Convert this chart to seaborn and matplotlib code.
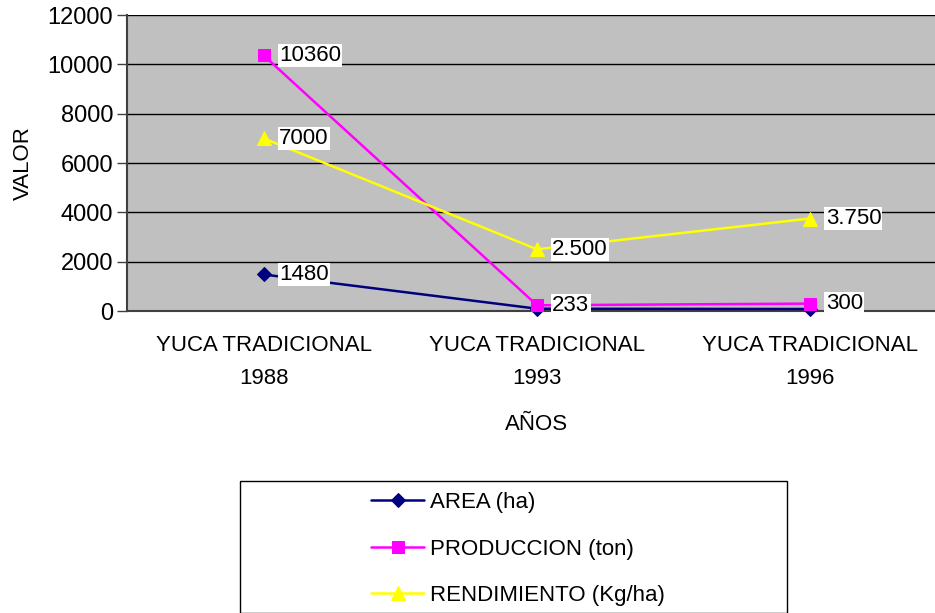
import matplotlib
matplotlib.use("Agg")
import matplotlib.pyplot as plt
from matplotlib.patches import Rectangle
from matplotlib.ticker import FixedLocator
import seaborn as sns
import pandas as pd

categories = ["YUCA TRADICIONAL\n1988", "YUCA TRADICIONAL\n1993", "YUCA TRADICIONAL\n1996"]
area = [1480, 93, 80]
produccion = [10360, 233, 300]
rendimiento = [7000, 2500, 3750]
prod_labels = ["10360", "233", "300"]
rend_labels = ["7000", "2.500", "3.750"]
area_labels = ["1480", None, None]
series_names = ["AREA (ha)", "PRODUCCION (ton)", "RENDIMIENTO (Kg/ha)"]
yticks = [0, 2000, 4000, 6000, 8000, 10000, 12000]

sns.set_theme(style="white")
plt.rcParams["font.family"] = ["Liberation Sans", "DejaVu Sans"]
plt.rcParams["text.color"] = "black"
plt.rcParams["axes.labelcolor"] = "black"
plt.rcParams["xtick.color"] = "black"
plt.rcParams["ytick.color"] = "black"
FS = 16

fig = plt.figure(figsize=(9.35, 6.13), dpi=100)
W, H = 935, 613
ax = fig.add_axes([127 / W, (H - 311) / H, (947 - 127) / W, 296 / H])
ax.set_facecolor("#C0C0C0")

pos = list(range(len(categories)))
df = pd.DataFrame({"pos": pos * 3,
                   "valor": area + produccion + rendimiento,
                   "serie": [series_names[0]] * 3 + [series_names[1]] * 3 + [series_names[2]] * 3})

colors = {"AREA (ha)": "#000080", "PRODUCCION (ton)": "#FF00FF", "RENDIMIENTO (Kg/ha)": "#FFFF00"}
markers = {"AREA (ha)": "D", "PRODUCCION (ton)": "s", "RENDIMIENTO (Kg/ha)": "^"}
msize = {"AREA (ha)": 7.5, "PRODUCCION (ton)": 9, "RENDIMIENTO (Kg/ha)": 10}

for name in series_names:
    sub = df[df["serie"] == name]
    sns.lineplot(data=sub, x="pos", y="valor", ax=ax, color=colors[name], marker=markers[name],
                 markersize=msize[name], markeredgecolor=colors[name], linewidth=1.8,
                 label=name, zorder=3, clip_on=False)

ax.set_xlim(-0.5, 2.5)
ax.set_ylim(0, 12000)
ax.set_yticks(yticks)
ax.set_yticklabels([str(v) for v in yticks], fontsize=FS + 1)
ax.set_xticks(pos)
ax.set_xticklabels(categories, fontsize=FS, linespacing=1.75)
ax.xaxis.set_minor_locator(FixedLocator([0.5, 1.5]))
ax.tick_params(axis="x", which="major", length=0, pad=17, labelcolor="black")
ax.tick_params(axis="x", which="minor", length=7, width=1, color="#404040", direction="out")
ax.tick_params(axis="y", which="major", length=7, width=1, color="#404040", direction="out", left=True, pad=3, labelcolor="black")
ax.grid(axis="y", color="black", linewidth=1)
ax.grid(axis="x", visible=False)
for s in ["top", "right"]:
    ax.spines[s].set_visible(False)
for s in ["left", "bottom"]:
    ax.spines[s].set_color("#404040")
    ax.spines[s].set_linewidth(1.5)

ax.set_xlabel("AÑOS", fontsize=FS, labelpad=18, color="black")
ax.set_ylabel("VALOR", fontsize=FS, labelpad=10, color="black")

def lab(vals, labels):
    for p, v, t in zip(pos, vals, labels):
        if t is None:
            continue
        ax.annotate(t, (p, v), xytext=(11, 0), textcoords="offset points", fontsize=FS,
                    va="center", ha="left", zorder=5, color="black",
                    bbox=dict(boxstyle="square,pad=0.05", fc="white", ec="none"))

lab(area, area_labels)
lab(produccion, prod_labels)
lab(rendimiento, rend_labels)

ax.get_legend().remove()
handles, labels = ax.get_legend_handles_labels()
fig.patches.append(Rectangle((240 / W, 0.5 / H), (787 - 240) / W, 132 / H,
                             transform=fig.transFigure, fill=False, ec="black", lw=1))
leg = fig.legend(handles, labels, loc="center", bbox_to_anchor=(518 / W, (H - 549) / H), frameon=False,
                 fontsize=FS, handlelength=2.4, handletextpad=0.25, labelspacing=1.15)
for t in leg.get_texts():
    t.set_color("black")

fig.savefig("out.png", dpi=100)
